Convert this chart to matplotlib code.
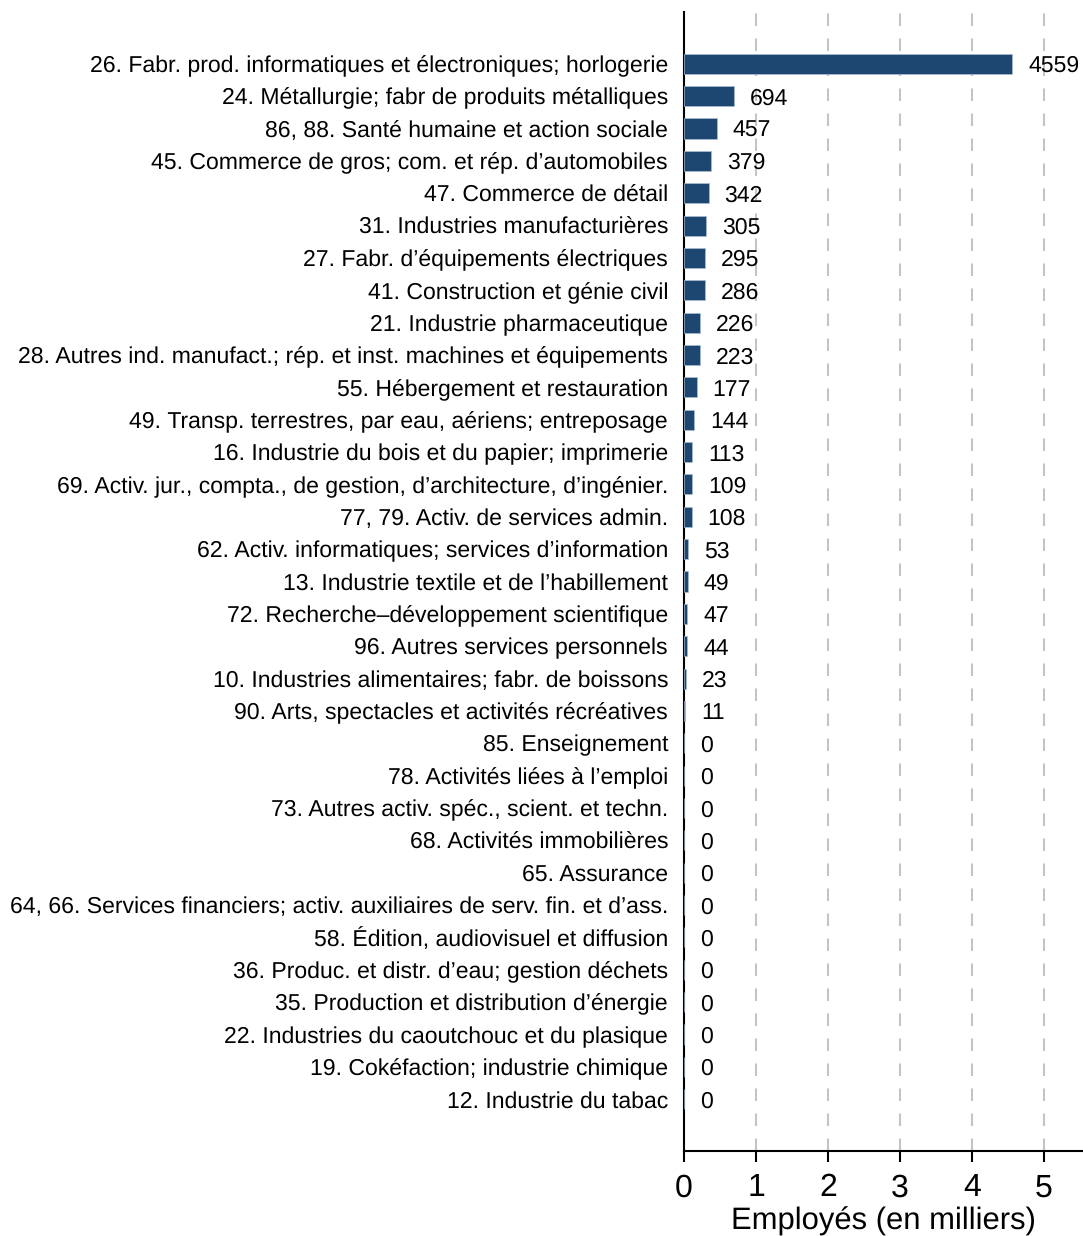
import matplotlib
matplotlib.use("Agg")
import matplotlib.pyplot as plt

plt.rcParams['font.family'] = ['Liberation Sans', 'DejaVu Sans']
plt.rcParams['text.hinting'] = 'no_hinting'
plt.rcParams['text.hinting_factor'] = 1

categories = [
    "26. Fabr. prod. informatiques et électroniques; horlogerie",
    "24. Métallurgie; fabr de produits métalliques",
    "86, 88. Santé humaine et action sociale",
    "45. Commerce de gros; com. et rép. d’automobiles",
    "47. Commerce de détail",
    "31. Industries manufacturières",
    "27. Fabr. d’équipements électriques",
    "41. Construction et génie civil",
    "21. Industrie pharmaceutique",
    "28. Autres ind. manufact.; rép. et inst. machines et équipements",
    "55. Hébergement et restauration",
    "49. Transp. terrestres, par eau, aériens; entreposage",
    "16. Industrie du bois et du papier; imprimerie",
    "69. Activ. jur., compta., de gestion, d’architecture, d’ingénier.",
    "77, 79. Activ. de services admin.",
    "62. Activ. informatiques; services d’information",
    "13. Industrie textile et de l’habillement",
    "72. Recherche–développement scientifique",
    "96. Autres services personnels",
    "10. Industries alimentaires; fabr. de boissons",
    "90. Arts, spectacles et activités récréatives",
    "85. Enseignement",
    "78. Activités liées à l’emploi",
    "73. Autres activ. spéc., scient. et techn.",
    "68. Activités immobilières",
    "65. Assurance",
    "64, 66. Services financiers; activ. auxiliaires de serv. fin. et d’ass.",
    "58. Édition, audiovisuel et diffusion",
    "36. Produc. et distr. d’eau; gestion déchets",
    "35. Production et distribution d’énergie",
    "22. Industries du caoutchouc et du plasique",
    "19. Cokéfaction; industrie chimique",
    "12. Industrie du tabac",
]
employes = [4559, 694, 457, 379, 342, 305, 295, 286, 226, 223, 177, 144, 113,
            109, 108, 53, 49, 47, 44, 23, 11, 0, 0, 0, 0, 0, 0, 0, 0, 0, 0, 0, 0]
xticks = [0, 1, 2, 3, 4, 5]

W, H = 1083, 1236
fig = plt.figure(figsize=(W / 100, H / 100), dpi=100)
ax = fig.add_axes([684 / W, 1 - 1151 / H, (W - 684) / W, (1151 - 12) / H])

ypos = list(range(len(categories)))
vals_k = [v / 1000 for v in employes]
ax.barh(ypos, vals_k, height=0.62, color="#1d4770", edgecolor="#a9bdd3",
        linewidth=0.5, zorder=3)

for y, v, raw in zip(ypos, vals_k, employes):
    ax.annotate(f"{raw}", xy=(v, y), xytext=(11.5, 0), textcoords="offset points",
                ha="left", va="center_baseline", fontsize=16.6, color="black", zorder=4)

ax.set_yticks(ypos)
ax.set_yticklabels(categories, fontsize=16.8, va="center_baseline")
ax.tick_params(axis="y", length=0, pad=11.5)
ax.set_ylim(len(categories) - 1 + 1.6, -1.6)
ax.set_xlim(0, (W - 684) / 72)
ax.set_xticks(xticks)
ax.set_xticklabels([str(t) for t in xticks], fontsize=23)
ax.tick_params(axis="x", length=8, width=1.5, pad=8)
ax.set_xlabel("Employés (en milliers)", fontsize=22, labelpad=3)

for s in ["top", "right"]:
    ax.spines[s].set_visible(False)
for s in ["left", "bottom"]:
    ax.spines[s].set_linewidth(1.5)

for t in xticks[1:]:
    ax.axvline(t, color="#c4c4c4", linestyle=(0, (6, 6)), linewidth=1.5, zorder=1)

fig.savefig("out.png", dpi=100)
